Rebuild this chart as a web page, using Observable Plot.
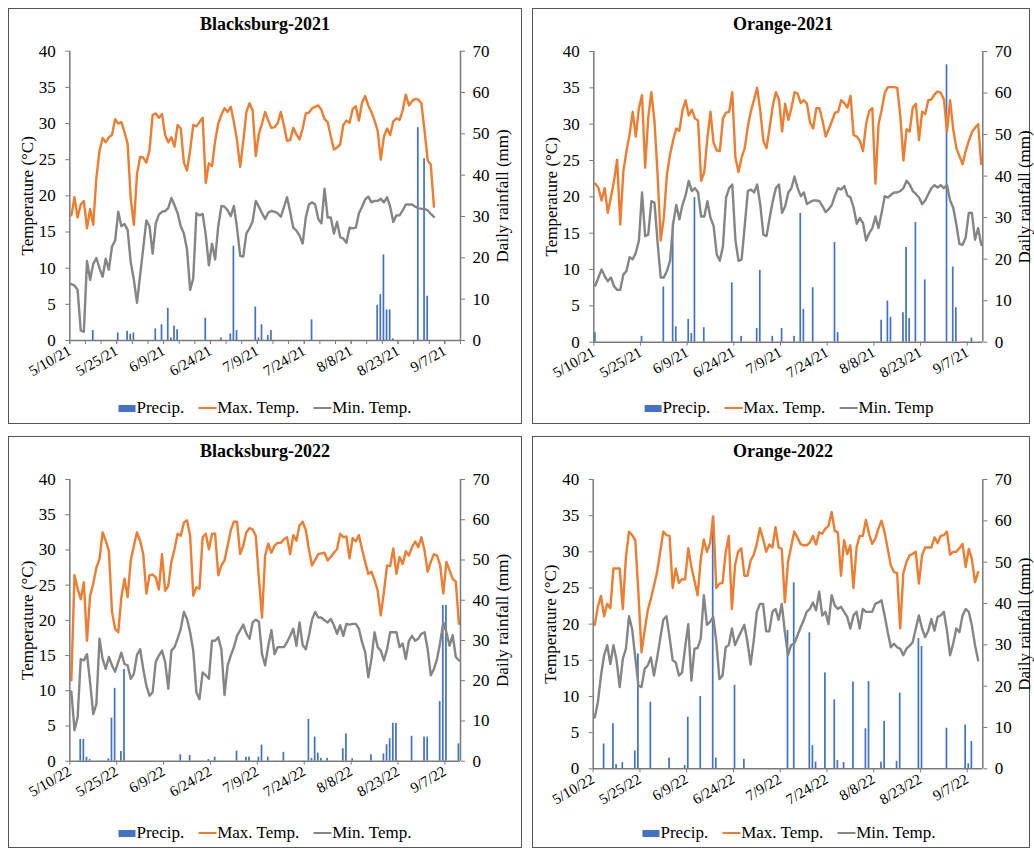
<!DOCTYPE html>
<html><head><meta charset="utf-8">
<script src="https://cdn.jsdelivr.net/npm/d3@7"></script>
<script src="https://cdn.jsdelivr.net/npm/@observablehq/plot@0.6"></script>
<style>
body{margin:0;width:1034px;height:850px;background:#fff;position:relative;overflow:hidden;font-family:"Liberation Serif","Times New Roman",serif;color:#000}
.box{position:absolute;border:1.5px solid #555;box-sizing:border-box}
.title{position:absolute;font-weight:bold;font-size:18px;transform:translate(-50%,-50%);white-space:nowrap}
.chart{position:absolute}
.legend{position:absolute;transform:translate(-50%,-50%);display:flex;align-items:center;font-size:17px;white-space:nowrap}
.kbar{display:inline-block;width:17px;height:7px;background:#4472C4;margin-right:1px}
.kline{display:inline-block;width:18px;height:2px;margin-left:14px;margin-right:1px}
</style></head><body>
<script>
// ---- Data: daily values starting 10 May of each year ----
const bs21Max = [17.3,19.8,17.0,18.8,19.3,15.5,18.2,16.0,22.5,26.2, 28.0,27.4,28.1,28.4,30.6,30.0,30.2,28.8,27.2,19.6, 16.0,23.0,25.4,25.3,24.6,26.3,31.2,31.4,30.8,31.3, 28.4,27.4,28.1,26.8,29.8,29.3,24.6,23.5,26.3,29.8, 29.6,30.2,30.8,21.8,24.5,24.1,27.6,30.0,31.2,32.1, 31.6,32.3,30.2,27.7,24.0,27.5,31.6,32.8,31.8,25.5, 28.6,30.0,31.6,30.4,29.4,29.5,30.0,31.6,29.8,27.6, 27.7,29.4,28.5,27.8,29.3,31.4,31.5,32.1,32.3,32.5, 31.9,30.6,30.2,28.2,26.4,26.7,27.1,29.8,30.4,30.1, 32.0,32.4,30.4,32.9,33.8,32.5,31.6,30.4,29.0,25.0, 28.2,29.3,28.4,30.3,30.7,30.5,31.8,34.0,32.5,33.1, 33.4,33.3,32.8,29.0,24.9,24.3,18.5];
const bs21Min = [7.8,7.6,7.0,1.4,1.2,11.0,8.4,10.6,11.4,10.0, 8.8,11.3,9.8,13.0,13.8,17.8,15.8,16.1,15.3,10.8, 8.4,5.2,9.0,12.8,16.6,15.8,12.0,16.2,17.4,17.8, 17.9,18.3,19.7,18.7,17.6,15.8,14.8,12.6,7.0,8.6, 17.6,17.3,17.5,14.6,10.4,13.4,11.2,15.8,18.6,18.5, 18.0,17.2,18.6,15.6,11.7,11.6,14.8,15.5,16.5,19.3, 18.5,17.6,16.8,17.7,17.9,17.8,17.6,17.1,18.4,19.8, 17.8,15.6,15.2,14.5,13.4,17.0,18.8,19.1,18.8,16.8, 16.2,21.0,17.0,17.0,14.8,16.4,14.3,14.1,13.5,15.6, 15.5,15.6,17.6,18.5,19.5,19.9,19.1,19.3,19.3,19.6, 19.1,19.8,18.5,16.4,17.3,17.3,18.0,18.8,18.8,18.8, 18.5,18.3,18.2,18.2,18.0,17.5,17.1];
const bs21RainDay = [7,15,18,19,20,27,29,31,32,33,34,43,48,51,52,53,59,60,61,63,64,77,98,99,100,101,102,103,111,113,114];
const bs21RainMm  = [2.4,1.8,2.2,1.5,1.8,2.8,3.8,7.8,0.6,3.5,2.6,5.4,0.6,1.6,22.8,2.4,8.1,0.6,3.8,1.2,2.4,5.0,8.5,11.1,20.7,7.4,7.4,0.4,51.5,44.0,10.7];

const og21Max = [21.8,21.2,19.5,21.2,17.8,19.9,22.2,25.1,16.2,23.5, 26.3,28.6,31.7,28.3,32.2,34.0,24.0,30.9,34.4,30.4, 23.1,14.0,17.1,23.1,25.8,27.8,29.4,29.1,31.9,33.3, 31.2,32.0,30.8,30.5,22.2,23.4,28.1,31.7,27.4,26.4, 26.3,30.8,31.6,31.7,34.4,25.4,23.4,25.4,26.7,29.7, 31.8,33.4,35.0,31.8,27.7,26.7,29.5,32.5,34.4,33.4, 29.0,32.8,30.6,32.2,34.4,34.2,32.9,33.3,32.8,30.2, 29.4,32.2,32.2,30.5,28.3,29.3,30.4,31.6,31.7,33.3, 32.9,32.3,33.9,28.5,28.3,27.7,26.3,30.0,31.8,32.2, 21.8,30.0,32.0,34.3,35.1,35.1,35.1,35.0,31.1,25.0, 29.3,29.0,32.3,32.8,27.8,31.7,31.4,33.3,33.4,34.1, 34.5,34.3,33.4,29.0,33.3,29.3,26.7,25.6,24.5,26.3, 27.7,28.9,29.5,30.0,24.5];
const og21Min = [7.8,8.9,10.0,9.1,8.4,8.9,7.7,7.2,7.2,9.3, 9.8,11.7,11.4,12.3,14.0,20.6,14.6,14.8,19.4,19.2, 13.7,8.9,8.9,9.8,11.2,16.3,18.9,16.9,18.9,20.2, 22.2,20.8,21.2,20.6,17.3,17.3,19.4,17.1,16.0,12.1, 11.2,13.2,19.9,21.2,21.7,14.1,11.2,11.4,16.0,20.8, 21.0,20.6,21.7,18.9,14.8,14.6,17.1,19.4,21.2,21.7, 17.8,18.7,20.6,21.2,22.8,21.2,20.1,20.6,19.0,19.3, 19.5,19.5,19.4,18.7,17.9,18.3,18.9,20.2,21.2,21.0, 21.5,20.2,19.9,18.5,16.3,17.1,16.4,14.0,15.0,15.7, 17.3,15.7,17.8,20.1,19.9,20.3,20.6,20.6,20.8,21.2, 22.2,21.7,20.8,20.4,19.9,19.0,19.5,20.4,21.2,21.6, 21.3,21.6,21.2,21.6,19.5,18.5,16.2,13.5,13.4,14.4, 17.8,17.8,14.1,15.7,13.4];
const og21RainDay = [0,15,22,25,26,30,31,32,35,44,47,52,53,57,60,64,66,67,70,77,78,92,94,95,99,100,101,103,106,113,115,116,121];
const og21RainMm  = [2.3,1.4,13.3,28.6,3.7,5.5,2.1,34.8,3.5,14.3,1.4,3.3,17.3,1.4,3.3,1.4,31.0,7.9,13.1,24.0,2.3,5.3,9.9,6.0,7.1,22.8,5.7,28.8,15.0,66.8,18.1,8.3,1.0];

const bs22Max = [11.5,26.4,24.5,23.0,25.4,17.1,23.5,25.2,27.5,28.7, 32.5,31.3,29.9,21.2,18.8,18.3,23.3,25.9,23.3,28.5, 30.6,32.5,31.3,29.4,23.8,26.4,26.5,26.1,24.4,29.4, 24.2,24.9,28.3,30.1,32.3,32.0,33.9,34.2,32.0,23.5, 24.7,24.5,31.8,32.3,30.1,32.3,32.3,26.4,27.8,28.5, 30.6,32.8,34.0,34.0,29.4,30.6,32.5,33.1,32.9,32.0, 26.0,20.4,29.2,30.9,29.6,30.6,31.0,31.0,31.5,31.8, 29.4,32.1,31.3,33.5,34.0,32.8,30.1,27.8,28.6,29.4, 29.5,29.6,28.5,29.0,29.6,30.1,32.3,31.8,31.9,28.8, 31.7,31.2,32.1,30.1,28.3,26.6,26.9,25.7,24.2,20.7, 24.0,27.8,27.7,30.2,26.6,29.0,28.0,29.8,29.2,30.4, 31.2,30.4,31.8,29.9,26.9,28.3,29.4,29.2,27.8,23.8, 28.3,27.1,25.9,25.5,19.5];
const bs22Min = [9.9,4.4,6.2,14.5,14.3,15.2,11.2,6.7,8.1,17.4, 14.5,13.1,14.8,13.6,12.7,14.1,15.4,13.8,13.6,11.7, 12.4,15.1,15.9,13.1,10.7,9.3,9.8,14.1,15.0,15.7, 14.1,10.3,15.7,16.2,17.4,18.8,21.2,20.2,18.3,15.7, 9.8,8.8,12.6,12.2,11.7,17.1,17.1,17.6,15.9,9.4, 13.6,15.0,16.2,17.8,18.6,19.4,18.1,17.4,19.7,20.1, 19.8,15.2,13.6,16.4,18.6,15.2,16.2,16.2,16.2,16.9, 17.8,18.8,16.4,19.7,16.5,15.9,17.8,20.1,21.2,20.4, 20.4,20.0,19.7,20.2,19.3,18.1,19.3,17.8,19.5,19.4, 19.5,19.5,18.8,16.9,15.5,11.9,14.5,18.3,16.2,15.7, 14.3,15.9,18.3,18.3,18.3,16.2,16.7,14.5,17.1,17.8, 17.1,17.4,18.1,18.3,15.9,12.2,13.1,14.5,16.9,19.7, 18.3,16.4,17.9,14.8,14.3];
const bs22RainDay = [3,4,5,6,12,13,14,16,17,35,38,44,46,53,56,57,60,61,63,68,76,77,78,79,80,82,87,88,90,96,100,101,102,103,104,109,113,114,118,119,120,124];
const bs22RainMm  = [5.4,5.4,1.0,0.4,0.6,10.7,18.1,2.4,22.8,1.6,1.4,0.4,1.0,2.5,1.0,1.0,1.0,4.0,1.0,2.2,10.4,0.7,6.0,2.0,0.7,0.7,3.1,6.8,0.6,1.6,1.8,4.1,5.6,9.4,9.4,6.2,6.0,6.0,14.8,38.7,38.7,4.3];

const og22Max = [19.9,22.4,23.9,21.1,22.8,22.2,27.7,27.7,27.7,22.1, 29.3,32.8,32.3,31.6,24.4,16.1,19.1,21.9,23.5,25.3, 27.2,30.0,32.8,32.3,32.2,25.0,27.7,25.7,26.2,26.2, 30.5,27.9,26.0,24.0,28.9,31.7,30.0,31.2,34.9,25.0, 25.6,25.7,29.9,32.2,22.1,28.1,30.0,30.5,26.7,26.7, 28.8,29.6,31.1,33.3,31.8,30.0,31.0,30.6,33.4,30.6, 30.4,23.0,28.6,30.7,32.8,32.0,31.1,30.9,30.9,31.3, 32.2,31.0,32.7,32.5,33.2,33.6,35.5,32.9,32.7,26.7, 31.6,29.7,30.9,25.0,30.6,32.2,32.2,34.4,32.5,31.1, 31.8,33.2,34.3,32.7,30.4,28.1,27.2,27.1,19.4,27.0, 28.6,29.5,29.7,30.0,25.6,29.5,30.6,30.6,30.6,32.0, 31.2,32.2,32.3,32.8,29.6,30.0,30.0,30.5,31.1,27.9, 30.4,29.0,25.8,27.2];
const og22Min = [7.1,9.2,12.9,15.7,17.1,14.5,17.1,15.0,11.3,15.2, 16.6,21.1,19.3,15.4,11.5,11.3,13.8,14.3,15.4,12.9, 15.3,18.0,20.6,21.1,18.2,15.0,14.7,12.9,13.3,16.8, 20.0,12.2,16.6,16.7,18.0,24.0,19.9,20.3,21.0,17.6, 12.4,12.9,16.8,17.1,19.4,17.1,18.1,19.0,19.9,17.5, 14.4,17.7,21.7,22.8,22.8,19.0,19.0,21.7,22.1,20.6, 22.8,18.9,15.7,17.1,17.3,18.4,19.5,20.5,21.7,22.1, 23.0,21.9,24.5,21.2,21.7,20.0,24.0,22.6,22.1,22.4, 21.7,21.0,19.4,21.2,21.7,19.4,22.1,21.7,21.7,21.7, 22.8,23.0,23.3,21.2,18.9,16.8,17.3,16.8,16.6,15.7, 16.6,17.0,17.5,19.4,21.2,19.4,18.2,19.1,20.7,19.1, 21.0,21.2,21.7,19.1,15.7,17.3,19.4,18.9,21.2,22.1, 21.7,19.8,17.1,15.0];
const og22RainDay = [3,6,7,9,13,14,18,24,29,30,34,38,39,45,48,62,64,69,70,71,74,77,78,80,83,87,88,92,93,97,98,104,105,113,119,120,121];
const og22RainMm  = [6.0,10.9,1.0,1.5,4.3,27.8,16.1,2.6,0.8,12.5,17.5,61.0,2.6,20.2,2.3,33.5,45.0,32.9,5.6,1.6,23.2,16.7,2.0,1.5,21.0,9.7,21.1,1.6,11.5,1.8,18.3,31.5,29.6,9.8,10.6,1.2,6.6];

const tempTicks = [0,5,10,15,20,25,30,35,40];
const rainTicks = [0,10,20,30,40,50,60,70];
const tickDayOffsets = [0,15,30,45,60,75,90,105,120];
const seriesNames = ["Precip.", "Max. Temp.", "Min. Temp."];

// ---- Styles & layout ----
const BLUE = "#4472C4", ORANGE = "#ED7D31", GRAY = "#858585", AXIS = "#7a7a7a";
const K = 40 / 70;            // mm -> temperature units for the secondary axis
const DAY = 864e5;
const fmt = d3.utcFormat("%-m/%-d/%y");

const panels = [
  {title: "Blacksburg-2021", year: 2021, maxT: bs21Max, minT: bs21Min, rainDay: bs21RainDay, rainMm: bs21RainMm, minNameOverride: null, minor: true,
   box: [8, 8, 514, 416], svg: {left: 10, top: 40, w: 505, h: 350, ml: 59.3, mr: 55, mt: 10.7, mb: 50}, titlePos: [265, 24], legendPos: [265, 408]},
  {title: "Orange-2021", year: 2021, maxT: og21Max, minT: og21Min, rainDay: og21RainDay, rainMm: og21RainMm, minNameOverride: "Min. Temp", minor: false,
   box: [532, 8, 498, 416], svg: {left: 534, top: 40, w: 496, h: 352, ml: 59.3, mr: 47.7, mt: 11, mb: 50.3}, titlePos: [783, 24], legendPos: [789, 408]},
  {title: "Blacksburg-2022", year: 2022, maxT: bs22Max, minT: bs22Min, rainDay: bs22RainDay, rainMm: bs22RainMm, minNameOverride: null, minor: false,
   box: [8, 436, 514, 412], svg: {left: 10, top: 466, w: 505, h: 345, ml: 59.3, mr: 55, mt: 13, mb: 50.3}, titlePos: [265, 451], legendPos: [265, 833]},
  {title: "Orange-2022", year: 2022, maxT: og22Max, minT: og22Min, rainDay: og22RainDay, rainMm: og22RainMm, minNameOverride: null, minor: false,
   box: [532, 436, 498, 412], svg: {left: 534, top: 466, w: 496, h: 352, ml: 58.7, mr: 47.7, mt: 13, mb: 49.7}, titlePos: [783, 451], legendPos: [789, 833]}
];

function el(tag, cls, css) {
  const e = document.createElement(tag);
  if (cls) e.className = cls;
  if (css) Object.assign(e.style, css);
  document.body.appendChild(e);
  return e;
}

for (const p of panels) {
  const [bl, bt, bw, bh] = p.box;
  el("div", "box", {left: bl + "px", top: bt + "px", width: bw + "px", height: bh + "px"});

  const start = Date.UTC(p.year, 4, 10);
  const at = i => new Date(start + i * DAY);
  const temps = p.maxT.map((v, i) => ({date: at(i), max: v, min: p.minT[i]}));
  const rain = p.rainDay.map((d, i) => ({date: at(d), mm: p.rainMm[i]}));
  const mid = d => new Date(+d.date + DAY / 2);
  const major = tickDayOffsets.map(at);
  const minor = d3.range(0, 126, 5).map(at);
  const S = p.svg;

  const chart = Plot.plot({
    width: S.w, height: S.h,
    marginLeft: S.ml, marginRight: S.mr, marginTop: S.mt, marginBottom: S.mb,
    style: {fontFamily: '"Liberation Serif", "Times New Roman", serif', fontSize: "17px", color: "#000", background: "none", overflow: "visible"},
    x: {type: "utc", domain: [at(0), at(125)]},
    y: {domain: [0, 40]},
    marks: [
      Plot.rectY(rain, {x: "date", interval: "day", y: d => d.mm * K, fill: BLUE, insetLeft: 0.7, insetRight: 0.7}),
      Plot.lineY(temps, {x: mid, y: "min", stroke: GRAY, strokeWidth: 2.4}),
      Plot.lineY(temps, {x: mid, y: "max", stroke: ORANGE, strokeWidth: 2.4}),
      Plot.ruleY([0], {stroke: AXIS, strokeWidth: 1.5}),
      Plot.ruleX([at(0), at(125)], {stroke: AXIS, strokeWidth: 1.5}),
      Plot.axisY({anchor: "left", ticks: tempTicks, tickSize: 4, tickPadding: 10, stroke: AXIS, fill: "#000",
                  fontSize: 17, label: "Temperature (°C)", labelAnchor: "center", labelArrow: "none", labelOffset: 49}),
      Plot.axisY({anchor: "right", ticks: rainTicks.map(v => v * K), tickFormat: v => Math.round(v / K), tickSize: 4, tickPadding: 8,
                  stroke: AXIS, fill: "#000", fontSize: 17, label: "Daily rainfall (mm)", labelAnchor: "center", labelArrow: "none", labelOffset: 47}),
      Plot.axisX({ticks: major, tickFormat: fmt, tickRotate: -30, tickSize: 4, tickPadding: 5, stroke: AXIS, fill: "#000", fontSize: 15, label: null}),
      p.minor ? Plot.axisX({ticks: minor, tickFormat: () => "", tickSize: 4, stroke: AXIS, label: null}) : null
    ]
  });
  const holder = el("div", "chart", {left: S.left + "px", top: S.top + "px"});
  holder.appendChild(chart);

  const t = el("div", "title", {left: p.titlePos[0] + "px", top: p.titlePos[1] + "px"});
  t.textContent = p.title;

  const lg = el("div", "legend", {left: p.legendPos[0] + "px", top: p.legendPos[1] + "px"});
  const names = [seriesNames[0], seriesNames[1], p.minNameOverride || seriesNames[2]];
  lg.innerHTML =
    `<span class="kbar"></span><span>${names[0]}</span>` +
    `<span class="kline" style="background:${ORANGE}"></span><span>${names[1]}</span>` +
    `<span class="kline" style="background:${GRAY}"></span><span>${names[2]}</span>`;
}
</script>
</body></html>
